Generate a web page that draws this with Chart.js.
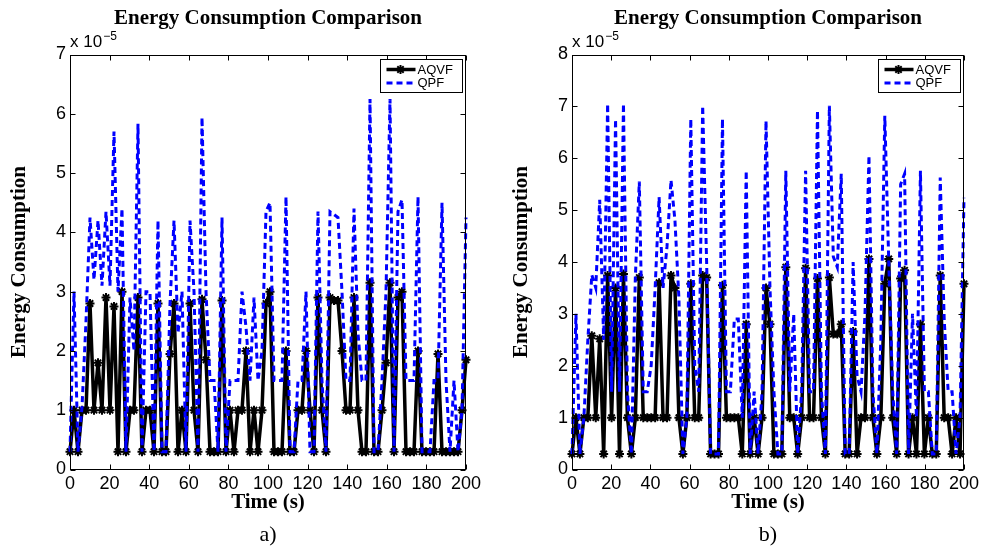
<!DOCTYPE html>
<html><head><meta charset="utf-8">
<script src="https://cdn.jsdelivr.net/npm/chart.js@4.4.1/dist/chart.umd.min.js"></script>
<style>
html,body{margin:0;padding:0;background:#fff;}
body{width:983px;height:548px;position:relative;overflow:hidden;}
canvas{position:absolute;top:0;}
#c1{left:0;} #c2{left:502px;}
</style></head><body>
<canvas id="c1" width="491" height="548"></canvas>
<canvas id="c2" width="481" height="548"></canvas>
<script>
// ---- data (energy values in units of 1e-5) ----
const times = [0,2.02,4.04,6.06,8.08,10.1,12.12,14.14,16.16,18.18,20.2,22.22,24.24,26.26,28.28,30.3,32.32,34.34,36.36,38.38,40.4,42.42,44.44,46.46,48.48,50.51,52.53,54.55,56.57,58.59,60.61,62.63,64.65,66.67,68.69,70.71,72.73,74.75,76.77,78.79,80.81,82.83,84.85,86.87,88.89,90.91,92.93,94.95,96.97,98.99,101.01,103.03,105.05,107.07,109.09,111.11,113.13,115.15,117.17,119.19,121.21,123.23,125.25,127.27,129.29,131.31,133.33,135.35,137.37,139.39,141.41,143.43,145.45,147.47,149.49,151.52,153.54,155.56,157.58,159.6,161.62,163.64,165.66,167.68,169.7,171.72,173.74,175.76,177.78,179.8,181.82,183.84,185.86,187.88,189.9,191.92,193.94,195.96,197.98,200];

const aqvfA = [0.3,1.0,0.3,1.0,1.0,2.8,1.0,1.8,1.0,2.9,
  1.0,2.75,0.3,3.0,0.3,1.0,1.0,2.9,0.3,1.0,
  1.0,0.3,2.8,0.3,0.3,1.95,2.8,0.3,1.0,0.3,
  2.8,1.0,0.3,2.87,1.85,0.3,0.3,0.3,2.85,0.3,
  1.0,0.3,1.0,1.0,2.0,0.3,1.0,0.3,1.0,2.8,
  3.0,0.3,0.3,0.3,2.0,0.3,0.3,1.0,1.0,2.0,
  1.0,0.3,2.9,1.0,0.3,2.9,2.85,2.85,2.0,1.0,
  1.0,2.9,1.0,0.3,0.3,3.15,0.3,0.3,1.0,1.8,
  3.15,0.3,2.9,3.0,0.3,0.3,0.3,2.0,0.3,0.3,
  0.3,0.3,1.95,0.3,0.3,0.3,0.3,0.3,1.0,1.85];

const qpfA = [0.3,3.0,0.3,1.05,2.5,4.25,3.2,4.2,3.1,4.35,
  3.1,5.7,3.0,4.4,0.3,2.9,2.0,5.83,0.3,3.0,
  3.0,0.3,4.2,0.3,0.3,2.8,4.2,2.3,3.0,0.3,
  4.2,3.0,0.3,5.94,3.0,1.5,1.5,0.3,4.25,0.3,
  1.5,1.5,1.5,3.0,2.4,1.5,2.9,1.5,2.0,4.35,
  4.5,1.5,1.5,1.5,4.6,0.3,0.3,1.5,1.5,3.0,
  0.3,0.3,4.35,1.5,0.3,4.35,4.3,4.25,3.0,1.5,
  1.5,4.4,2.3,1.5,1.5,6.25,0.3,0.3,1.5,3.0,
  6.25,0.3,4.35,4.55,1.5,1.5,1.5,4.6,0.3,0.3,
  0.3,1.5,1.5,4.5,1.5,0.3,1.5,0.3,1.0,4.25];

const aqvfB = [0.3,1.0,0.3,1.0,1.0,2.58,1.0,2.52,0.3,3.74,
  1.0,3.5,0.3,3.77,1.0,0.3,1.0,3.7,1.0,1.0,
  1.0,1.0,3.6,1.0,1.0,3.74,3.5,1.0,0.3,1.0,
  3.58,1.0,1.0,3.74,3.7,0.3,0.3,0.3,3.55,1.0,
  1.0,1.0,1.0,0.3,2.8,0.3,1.0,0.3,1.0,3.5,
  2.8,0.3,0.3,0.3,3.9,1.0,1.0,0.3,1.0,3.88,
  1.0,1.0,3.68,1.0,0.3,3.7,2.61,2.61,2.8,0.3,
  0.3,2.66,0.3,1.0,1.0,4.06,1.0,0.3,1.0,3.58,
  4.06,1.0,0.3,3.68,3.84,0.3,1.0,0.3,2.8,0.3,
  1.0,0.3,0.3,3.74,1.0,1.0,0.3,1.0,0.3,3.58];

const qpfB = [0.3,3.0,0.3,1.0,2.5,3.75,3.5,5.2,2.5,7.05,
  1.5,6.75,1.5,7.05,1.5,0.3,3.7,5.55,1.5,1.5,
  2.0,3.5,5.25,3.5,4.3,5.58,4.8,3.3,0.3,1.0,
  6.76,2.0,1.5,7.01,4.0,0.3,0.3,0.3,6.76,1.5,
  1.5,2.9,2.9,1.0,5.76,0.3,1.5,0.3,1.5,6.72,
  3.5,1.5,0.3,0.3,5.76,1.5,3.0,0.3,1.5,5.76,
  1.5,1.5,6.92,1.5,0.3,7.01,4.1,3.9,5.7,0.3,
  0.3,4.0,1.8,1.5,3.0,6.05,1.5,0.3,2.5,6.82,
  4.0,1.5,0.3,5.5,5.7,0.3,3.0,1.0,5.76,1.5,
  1.5,0.3,0.3,5.63,2.9,1.5,1.5,0.3,1.0,5.24];

const xTickValues = [0,20,40,60,80,100,120,140,160,180,200];
const yTickValuesA = [0,1,2,3,4,5,6,7];
const yTickValuesB = [0,1,2,3,4,5,6,7,8];
const seriesNames = ['AQVF','QPF'];
const chartTitle = 'Energy Consumption Comparison';
const xTitle = 'Time (s)';
const yTitle = 'Energy Consumption';
const exponentBase = 'x 10';
const exponentPower = '\u22125';
const panelLabels = ['a)','b)'];

// ---- MATLAB-like decorations ----
const matlabPlugin = {
  id: 'matlab',
  afterDraw(chart, args, opts) {
    const ctx = chart.ctx, a = chart.chartArea, x = chart.scales.x, y = chart.scales.y;
    ctx.save();
    ctx.strokeStyle = '#000'; ctx.lineWidth = 1; ctx.setLineDash([]);
    const L = Math.round(a.left) + 0.5, R = Math.round(a.right) - 0.5, T = Math.round(a.top) + 0.5, B = Math.round(a.bottom) - 0.5;
    ctx.strokeRect(L, T, R - L, B - T);
    const tl = 5;
    ctx.beginPath();
    x.ticks.forEach(t => {
      const px = Math.round(x.getPixelForValue(t.value)) + 0.5;
      ctx.moveTo(px, B); ctx.lineTo(px, B - tl);
      ctx.moveTo(px, T); ctx.lineTo(px, T + tl);
    });
    y.ticks.forEach(t => {
      const py = Math.round(y.getPixelForValue(t.value)) + 0.5;
      ctx.moveTo(L, py); ctx.lineTo(L + tl, py);
      ctx.moveTo(R, py); ctx.lineTo(R - tl, py);
    });
    ctx.stroke();

    // legend box
    const ds = chart.data.datasets;
    const bw = 82, bh = 33;
    const bx = Math.round(a.right - 4 - bw) + 0.5, by = Math.round(a.top + 4.5) + 0.5;
    ctx.fillStyle = '#fff';
    ctx.fillRect(bx, by, bw, bh);
    ctx.strokeStyle = '#000'; ctx.lineWidth = 1;
    ctx.strokeRect(bx, by, bw, bh);
    const r1 = by + 10, r2 = by + 23.5;
    ctx.beginPath(); ctx.strokeStyle = ds[0].borderColor; ctx.lineWidth = 3.5;
    ctx.moveTo(bx + 6, r1); ctx.lineTo(bx + 35, r1); ctx.stroke();
    ctx.lineWidth = 2;
    Chart.helpers.drawPoint(ctx, {pointStyle: 'star', radius: 4.5, borderWidth: 2}, bx + 20, r1);
    ctx.beginPath(); ctx.strokeStyle = ds[1].borderColor; ctx.lineWidth = 3; ctx.setLineDash([6, 4]);
    ctx.moveTo(bx + 6, r2); ctx.lineTo(bx + 35, r2); ctx.stroke();
    ctx.setLineDash([]);
    ctx.fillStyle = '#000';
    ctx.font = '13px "Liberation Sans", Arial, sans-serif';
    ctx.textAlign = 'left'; ctx.textBaseline = 'middle';
    ctx.fillText(ds[0].label, bx + 37, r1 + 0.5);
    ctx.fillText(ds[1].label, bx + 37, r2 + 0.5);

    // exponent label
    ctx.textBaseline = 'alphabetic';
    ctx.font = '17px "Liberation Sans", Arial, sans-serif';
    ctx.fillText(opts.base, a.left, a.top - 8);
    const w = ctx.measureText(opts.base).width;
    ctx.font = '12px "Liberation Sans", Arial, sans-serif';
    ctx.fillText(opts.power, a.left + w + 1, a.top - 15);

    // panel label
    ctx.font = '22px "Liberation Serif", "Times New Roman", serif';
    ctx.textAlign = 'center'; ctx.textBaseline = 'middle';
    ctx.fillText(opts.panel, (a.left + a.right) / 2, 535);
    ctx.restore();
  }
};

function makeChart(id, aq, qp, yTicks, panel, rightPad) {
  const serif = '"Liberation Serif", "Times New Roman", serif';
  const sans = '"Liberation Sans", Arial, sans-serif';
  return new Chart(document.getElementById(id), {
    type: 'line',
    data: {
      datasets: [
        { label: seriesNames[0], data: times.map((t, i) => ({x: t, y: aq[i]})),
          borderColor: '#000000', backgroundColor: '#000000', borderWidth: 3.5,
          borderJoinStyle: 'round', pointStyle: 'star', pointRadius: 4.5,
          pointBorderWidth: 2, pointBorderColor: '#000000', pointBackgroundColor: '#000000',
          tension: 0, order: 1, clip: false },
        { label: seriesNames[1], data: times.map((t, i) => ({x: t, y: qp[i]})),
          borderColor: '#0000ff', borderWidth: 3, borderDash: [6, 4],
          pointRadius: 0, tension: 0, order: 0, clip: false, fill: false }
      ]
    },
    options: {
      responsive: false, animation: false, devicePixelRatio: 1,
      events: [],
      layout: { padding: { left: 0, right: rightPad, top: 0, bottom: 548 - 469.5 - 46 } },
      plugins: {
        legend: { display: false },
        tooltip: { enabled: false },
        title: { display: true, fullSize: false, text: chartTitle, color: '#000',
          font: { family: serif, size: 21, weight: 'bold' }, padding: { top: 6.4, bottom: 22.9 } },
        matlab: { base: exponentBase, power: exponentPower, panel: panel }
      },
      scales: {
        x: {
          type: 'linear', min: 0, max: 200,
          afterBuildTicks: s => { s.ticks = xTickValues.map(v => ({value: v})); },
          ticks: { color: '#000', font: { family: sans, size: 18 }, padding: 4, maxRotation: 0, autoSkip: false },
          grid: { display: false, drawTicks: false },
          border: { display: false },
          title: { display: true, text: xTitle, color: '#000', font: { family: serif, size: 21, weight: 'bold' }, padding: { top: 0, bottom: 0 } },
          afterFit: s => { s.height = 46; }
        },
        y: {
          type: 'linear', min: 0, max: yTicks[yTicks.length - 1],
          afterBuildTicks: s => { s.ticks = yTicks.map(v => ({value: v})); },
          ticks: { color: '#000', font: { family: sans, size: 18 }, padding: 4, autoSkip: false },
          grid: { display: false, drawTicks: false },
          border: { display: false },
          title: { display: true, text: yTitle, color: '#000', font: { family: serif, size: 21, weight: 'bold' }, padding: { top: 7, bottom: 0 } },
          afterFit: s => { s.width = 70; }
        }
      }
    },
    plugins: [matlabPlugin]
  });
}

makeChart('c1', aqvfA, qpfA, yTickValuesA, panelLabels[0], 25);
makeChart('c2', aqvfB, qpfB, yTickValuesB, panelLabels[1], 15.3);
</script>
</body></html>
